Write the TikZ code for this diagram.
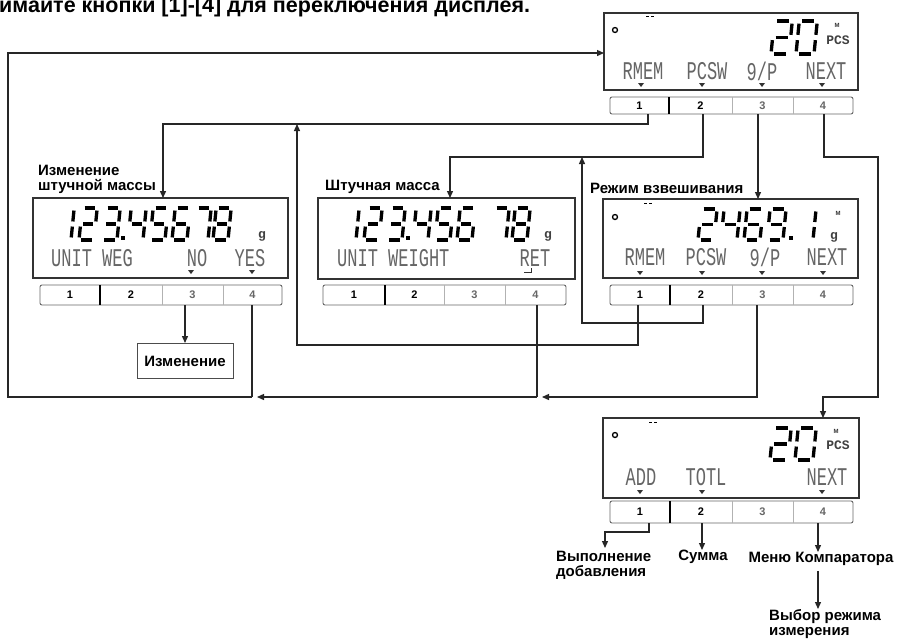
\documentclass[tikz,border=0pt]{standalone}
\usepackage{fontspec}
\usepackage{graphicx}
\setmainfont{Liberation Sans}
\newfontfamily\lcdfont{Liberation Mono}
\usetikzlibrary{arrows.meta}
\def\sgA{(0.16,1)--(0.84,1)}
\def\sgB{(1,0.92)--(1,0.58)}
\def\sgC{(1,0.42)--(1,0.08)}
\def\sgD{(0.16,0)--(0.84,0)}
\def\sgE{(0,0.42)--(0,0.08)}
\def\sgF{(0,0.92)--(0,0.58)}
\def\sgG{(0.16,0.5)--(0.84,0.5)}
% x-left, y-bottom, width, height, segments
\newcommand\segdig[5]{%
  \begin{scope}[shift={(#1,#2)}, x={(#3pt,0pt)}, y={(0.1*#4pt,#4pt)}]
    \foreach \s in {#5}{\edef\tmpseg{\noexpand\draw[segl] \csname sg\s\endcsname;}\tmpseg}
  \end{scope}}
\newcommand\lcdt[1]{\scalebox{1}[1.5]{#1}}
\newcommand\trimark[2]{\fill[black!80] (#1-3,#2) -- (#1+3,#2) -- (#1,#2+4) -- cycle;}
% prefix, x0, y0, x1, y1, d1, d2, d3
\newcommand\keybar[8]{%
  \draw[black!60, line width=0.9pt, rounded corners=2pt] (#2,#3) rectangle (#4,#5);
  \draw[black, line width=1.8pt] (#6,#3) -- (#6,#5);
  \draw[black!30, line width=0.9pt] (#7,#3) -- (#7,#5) (#8,#3) -- (#8,#5);
  \node[keynum] (#1k1) at ({(#2+#6)/2},{(#3+#5)/2}) {1};
  \node[keynum] (#1k2) at ({(#6+#7)/2},{(#3+#5)/2}) {2};
  \node[keynum, text=black!60] (#1k3) at ({(#7+#8)/2},{(#3+#5)/2}) {3};
  \node[keynum, text=black!60] (#1k4) at ({(#8+#4)/2},{(#3+#5)/2}) {4};}
\begin{document}
\begin{tikzpicture}[x=1pt, y=-1pt,
  conn/.style={line width=1.3pt, draw=black!85},
  arr/.style={conn, -{Triangle[length=7pt,width=6pt]}},
  lcdbox/.style={draw=black!80, line width=1.5pt, inner sep=0pt, outer sep=0pt},
  segl/.style={line width=3.3pt, black},
  lcdtxt/.style={font=\lcdfont\fontsize{17}{17}\selectfont, text=black!60, inner sep=0pt},
  smalltxt/.style={font=\lcdfont\bfseries\fontsize{13}{13}\selectfont, text=black!75, inner sep=0pt},
  tinytxt/.style={font=\bfseries\fontsize{6}{6}\selectfont, text=black!80, inner sep=0pt},
  lbl/.style={font=\bfseries\fontsize{15}{15}\selectfont, inner sep=0pt, align=left},
  keynum/.style={font=\bfseries\fontsize{11}{11}\selectfont, inner sep=0pt}]
\useasboundingbox (0,0) rectangle (903,641);
\clip (0,0) rectangle (903,641);
\fill[white] (0,0) rectangle (903,641);

% title (cut off at the edges, as in the reference)
\node[anchor=base west, font=\bfseries\fontsize{21.5}{21.5}\selectfont, inner sep=0pt] (title) at (-1,12) {имайте кнопки [1]-[4] для переключения дисплея.};

% ---------- top display ----------
\node[lcdbox, minimum width=254pt, minimum height=77pt] (TD) at (731,51.5) {};
\draw[line width=1.3pt] (615,30) circle (2.5);
\draw[line width=1pt] (646,16) -- (649,16) (651,16) -- (654,16);
\segdig{771}{54}{18}{33}{A,B,G,E,D}
\segdig{796}{54}{18}{33}{A,B,C,D,E,F}
\node[tinytxt] (TDm) at (837,25) {M};
\node[smalltxt] (TDpcs) at (838,40) {PCS};
\node[lcdtxt] (TDl1) at (643,71) {\lcdt{RMEM}};
\node[lcdtxt] (TDl2) at (707,71) {\lcdt{PCSW}};
\node[lcdtxt] (TDl3) at (762,71) {\lcdt{9/P}};
\node[lcdtxt] (TDl4) at (826,71) {\lcdt{NEXT}};
\trimark{641}{83}\trimark{702}{83}\trimark{762}{83}\trimark{822}{83}
\keybar{TD}{610}{97}{853}{114}{669}{732}{793}

% ---------- left display ----------
\node[lbl, anchor=south west] (lbLD) at (38,194) {Изменение\\штучной массы};
\node[lcdbox, minimum width=255pt, minimum height=80pt] (LD) at (160.5,238) {};
\segdig{56}{240}{15}{32}{B,C}
\segdig{79}{240}{15}{32}{A,B,G,E,D}
\segdig{102}{240}{15}{32}{A,B,G,C,D}
\fill (121,236) rectangle (125,240);
\segdig{128}{240}{15}{32}{F,G,B,C}
\segdig{150}{240}{15}{32}{A,F,G,C,D}
\segdig{172}{240}{15}{32}{A,F,G,E,D,C}
\segdig{193}{240}{15}{32}{A,B,C}
\segdig{213}{240}{15}{32}{A,B,C,D,E,F,G}
\node[smalltxt] (LDg) at (262,236) {g};
\node[lcdtxt, anchor=west] (LDl1) at (51,258) {\lcdt{UNIT WEG}};
\node[lcdtxt] (LDl3) at (197,258) {\lcdt{NO}};
\node[lcdtxt] (LDl4) at (250,258) {\lcdt{YES}};
\trimark{191}{270}\trimark{252}{270}
\keybar{LD}{40}{285}{282}{305}{100}{162}{223}

% ---------- middle display ----------
\node[lbl, anchor=south west] (lbMD) at (325,194) {Штучная масса};
\node[lcdbox, minimum width=257pt, minimum height=81pt] (MD) at (446.5,238.5) {};
\segdig{341}{240}{15}{32}{B,C}
\segdig{364}{240}{15}{32}{A,B,G,E,D}
\segdig{387}{240}{15}{32}{A,B,G,C,D}
\fill (406,236) rectangle (410,240);
\segdig{413}{240}{15}{32}{F,G,B,C}
\segdig{435}{240}{15}{32}{A,F,G,C,D}
\segdig{457}{240}{15}{32}{A,F,G,E,D,C}
\segdig{491}{240}{15}{32}{A,B,C}
\segdig{512}{240}{15}{32}{A,B,C,D,E,F,G}
\node[smalltxt] (MDg) at (548,236) {g};
\node[lcdtxt, anchor=west] (MDl1) at (337,258) {\lcdt{UNIT WEIGHT}};
\node[lcdtxt] (MDl4) at (535,258) {\lcdt{RET}};
\draw[line width=1pt, black!80] (531,268) -- (531,272) -- (524,272);
\keybar{MD}{323}{285}{566}{305}{385}{444}{505}

% ---------- right display ----------
\node[lbl, anchor=south west] (lbRD) at (590,194) {Режим взвешивания};
\node[lcdbox, minimum width=255pt, minimum height=79pt] (RD) at (730.5,238.5) {};
\draw[line width=1.3pt] (615,217) circle (2.5);
\draw[line width=1pt] (644,203) -- (647,203) (649,203) -- (652,203);
\segdig{698}{240}{16}{31}{A,B,G,E,D}
\segdig{721}{240}{16}{31}{F,G,B,C}
\segdig{744}{240}{16}{31}{A,F,G,E,D,C}
\segdig{767}{240}{16}{31}{A,B,C,D,F,G}
\fill (789,236) rectangle (793,240);
\segdig{797}{240}{16}{31}{B,C}
\node[tinytxt] (RDm) at (838,213) {M};
\node[smalltxt] (RDg) at (834,237) {g};
\node[lcdtxt] (RDl1) at (645,257) {\lcdt{RMEM}};
\node[lcdtxt] (RDl2) at (706,257) {\lcdt{PCSW}};
\node[lcdtxt] (RDl3) at (765,257) {\lcdt{9/P}};
\node[lcdtxt] (RDl4) at (827,257) {\lcdt{NEXT}};
\trimark{640}{271}\trimark{702}{271}\trimark{762}{271}\trimark{823}{271}
\keybar{RD}{610}{285}{853}{305}{670}{732}{793}

% ---------- bottom display ----------
\node[lcdbox, minimum width=256pt, minimum height=80pt] (BD) at (731,458) {};
\draw[line width=1.3pt] (615,435) circle (2.5);
\draw[line width=1pt] (649,422) -- (652,422) (654,422) -- (657,422);
\segdig{770}{460}{18}{32}{A,B,G,E,D}
\segdig{795}{460}{18}{32}{A,B,C,D,E,F}
\node[tinytxt] (BDm) at (836,431) {M};
\node[smalltxt] (BDpcs) at (838,445) {PCS};
\node[lcdtxt] (BDl1) at (641,477) {\lcdt{ADD}};
\node[lcdtxt] (BDl2) at (706,477) {\lcdt{TOTL}};
\node[lcdtxt] (BDl4) at (827,477) {\lcdt{NEXT}};
\trimark{640}{490}\trimark{702}{490}\trimark{822}{490}
\keybar{BD}{610}{501}{853}{523}{670}{732}{793}

% ---------- change box ----------
\node[draw=black!70, line width=1pt, lbl, minimum width=96pt, minimum height=35pt] (Izm) at (185,361) {Изменение};

% ---------- bottom labels ----------
\node[lbl, anchor=north west] (vyp) at (556,551) {Выполнение\\добавления};
\node[lbl, anchor=north] (summa) at (703,550) {Сумма};
\node[lbl, anchor=north] (menu) at (821,552) {Меню Компаратора};
\node[lbl, anchor=north west] (vybor) at (769,609) {Выбор режима\\измерения};

% ---------- connector coordinates ----------
\coordinate (TDo1) at (648,114);
\coordinate (TDo2) at (703,114);
\coordinate (TDo3) at (758,114);
\coordinate (TDo4) at (824,114);
\coordinate (TDin) at (604,53);
\coordinate (LDin) at (163,198);
\coordinate (MDin) at (450,198);
\coordinate (RDin) at (758,199);
\coordinate (BDin) at (823,418);
\coordinate (J1) at (297,124);
\coordinate (J2) at (582,157);
\coordinate (R1) at (878,157);
\coordinate (R2) at (878,397);
\coordinate (RDo1) at (638,305);
\coordinate (RDo2) at (703,305);
\coordinate (RDo3) at (757,305);
\coordinate (LDo3) at (185,305);
\coordinate (LDo4) at (252,305);
\coordinate (MDo4) at (537,305);
\coordinate (Jm) at (537,397);
\coordinate (Jl) at (252,397);
\coordinate (C2) at (8,53);
\coordinate (BDo1) at (649,523);
\coordinate (BDo2) at (702,523);
\coordinate (BDo4) at (818,523);
\coordinate (BDa1) at (605,548);

% ---------- connectors ----------
\draw[arr] (TDo1) -- (TDo1 |- J1) -| (LDin);
\draw[arr] (TDo2) -- (TDo2 |- J2) -| (MDin);
\draw[arr] (TDo3) -- (RDin);
\draw[arr] (TDo4) -- (TDo4 |- R1) -- (R1) -- (R2) -| (BDin);
\draw[arr] (RDo1) -- ++(0,40) -| (J1);
\draw[arr] (RDo2) -- ++(0,18) -| (J2);
\draw[arr] (RDo3) |- ([xshift=5pt]Jm);
\draw[conn] (MDo4) -- (Jm);
\draw[arr] (Jm) -- ([xshift=5pt]Jl);
\draw[conn] (LDo4) -- (Jl);
\draw[arr] (Jl) -| (C2) -- (TDin);
\draw[arr] (LDo3) -- (Izm.north);
\draw[arr] (BDo1) -- ++(0,9) -| (BDa1);
\draw[arr] (BDo2) -- (summa.north -| BDo2);
\draw[arr] (BDo4) -- (menu.north -| BDo4);
\draw[arr] (menu.south -| BDo4) ++(0,5) -- (vybor.north -| BDo4);
\end{tikzpicture}
\end{document}
